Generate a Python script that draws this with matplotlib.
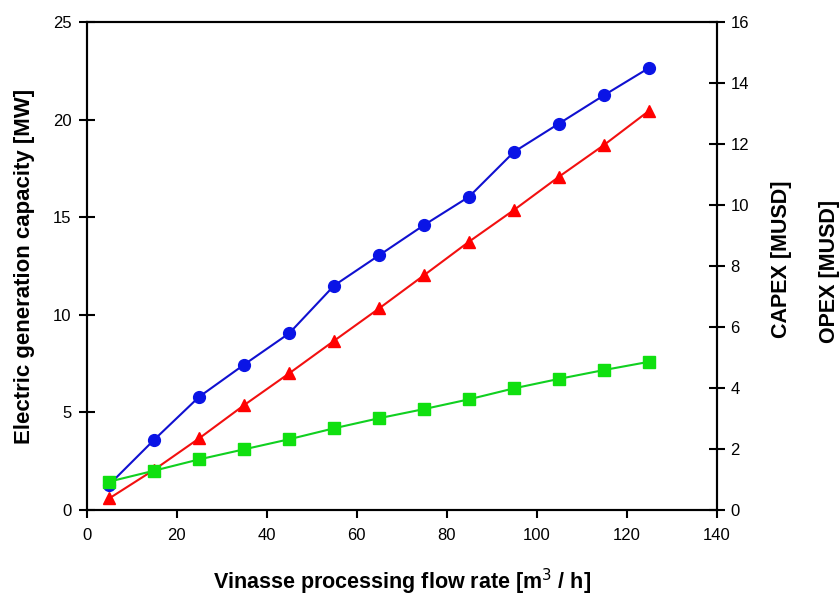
import numpy as np
import matplotlib
matplotlib.use("Agg")
import matplotlib.pyplot as plt

plt.rcParams['font.family'] = ['Liberation Sans', 'DejaVu Sans']

# flow rate [m3/h]
flow = [5, 15, 25, 35, 45, 55, 65, 75, 85, 95, 105, 115, 125]
# electric generation capacity [MW] (left axis)
power = [1.3, 3.6, 5.8, 7.45, 9.05, 11.5, 13.05, 14.6, 16.05, 18.35, 19.8, 21.25, 22.65]
# CAPEX [MUSD] (right axis)
capex = [0.38, 1.32, 2.35, 3.44, 4.48, 5.55, 6.61, 7.70, 8.80, 9.84, 10.93, 11.97, 13.09]
# OPEX [MUSD] (right axis)
opex = [0.93, 1.29, 1.66, 1.99, 2.32, 2.68, 3.01, 3.31, 3.63, 3.99, 4.30, 4.59, 4.86]

x_ticks = [0, 20, 40, 60, 80, 100, 120, 140]
left_ticks = [0, 5, 10, 15, 20, 25]
right_ticks = [0, 2, 4, 6, 8, 10, 12, 14, 16]

fig = plt.figure(figsize=(8.4, 5.97), dpi=100)
ax = fig.add_axes([0.1032, 0.1457, 0.7498, 0.8174])
ax2 = ax.twinx()

ax.plot(flow, power, color='#1010d0', lw=1.5, marker='o', ms=8.5,
        markerfacecolor='#0a14e6', markeredgecolor='#0a14e6', zorder=3)
ax2.plot(flow, capex, color='#f21010', lw=1.5, marker='^', ms=9,
         markerfacecolor='#ff0000', markeredgecolor='#ff0000', zorder=3)
ax2.plot(flow, opex, color='#10d020', lw=1.5, marker='s', ms=8,
         markerfacecolor='#10e010', markeredgecolor='#10e010', zorder=4)

ax.set_xlim(0, 140)
ax.set_ylim(0, 25)
ax2.set_ylim(0, 16)
ax.set_xticks(x_ticks)
ax.set_yticks(left_ticks)
ax2.set_yticks(right_ticks)

for a in (ax, ax2):
    for s in a.spines.values():
        s.set_linewidth(1.5)
        s.set_color('black')

ax.tick_params(axis='x', direction='out', length=6, width=1.5, pad=7, labelsize=12)
ax.tick_params(axis='y', direction='inout', length=12, width=1.5, pad=5, labelsize=12)
ax2.tick_params(axis='y', direction='inout', length=12, width=1.5, pad=4, labelsize=12)

ax.set_xlabel('Vinasse processing flow rate [m$^{3}$ / h]', fontsize=15.5, fontweight='bold', labelpad=17)
ax.set_ylabel('Electric generation capacity [MW]', fontsize=16, fontweight='bold', labelpad=13)
fig.text(0.930, 0.565, 'CAPEX [MUSD]', rotation=90, fontsize=15.5, fontweight='bold',
         ha='center', va='center')
fig.text(0.988, 0.545, 'OPEX [MUSD]', rotation=90, fontsize=15.5, fontweight='bold',
         ha='center', va='center')

fig.savefig('out.png', dpi=100)
